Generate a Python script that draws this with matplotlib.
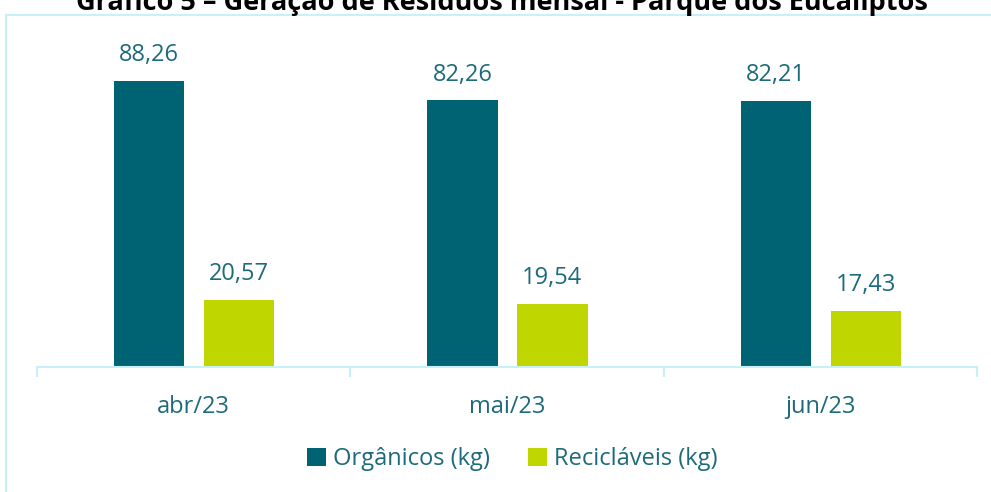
import matplotlib
matplotlib.use('Agg')
import matplotlib.pyplot as plt
from matplotlib.patches import Rectangle
import numpy as np

plt.rcParams['font.family'] = ['Open Sans', 'DejaVu Sans']

meses = ['abr/23', 'mai/23', 'jun/23']
organicos = [88.26, 82.26, 82.21]
reciclaveis = [20.57, 19.54, 17.43]
series = ['Orgânicos (kg)', 'Recicláveis (kg)']

c_org = '#006373'
c_rec = '#BFD600'
c_txt = '#1D6B7A'
c_line = '#C8F0F8'

fig = plt.figure(figsize=(9.91, 4.92), dpi=100)
ax = fig.add_axes([37/991, 125/492, 940/991, 324/492])

x = np.arange(len(meses))
w = 0.224
b1 = ax.bar(x - 0.142, organicos, w, color=c_org, label=series[0])
b2 = ax.bar(x + 0.145, reciclaveis, w, color=c_rec, label=series[1])

for bars, vals in [(b1, organicos), (b2, reciclaveis)]:
    for r, v in zip(bars, vals):
        ax.annotate('{:.2f}'.format(v).replace('.', ','),
                    (r.get_x() + r.get_width()/2, v),
                    xytext=(0, 10), textcoords='offset points',
                    ha='center', va='bottom', fontsize=17, color=c_txt)

ax.set_xlim(-0.5, 2.5)
ax.set_ylim(0, 100)
for s in ['top', 'right', 'left']:
    ax.spines[s].set_visible(False)
ax.spines['bottom'].set_color(c_line)
ax.spines['bottom'].set_linewidth(1.5)
ax.set_yticks([])
ax.set_xticks(x)
ax.set_xticklabels(meses, fontsize=17, color=c_txt)
ax.tick_params(axis='x', which='major', length=0, pad=20)
ax.set_xticks([-0.5, 0.5, 1.5, 2.5], minor=True)
ax.tick_params(axis='x', which='minor', length=7, width=1.5, color=c_line)

fig.legend(loc='center', bbox_to_anchor=(0.517, 1 - 459/492), ncol=2,
           frameon=False, fontsize=17, handlelength=0.8, handleheight=0.8,
           handletextpad=0.3, columnspacing=1.6, labelcolor=c_txt)

# moldura cortada
fig.patches.append(Rectangle((6/991, -0.1), 1.2, 1 - 15/492 + 0.1,
                             transform=fig.transFigure, fill=False,
                             edgecolor=c_line, linewidth=1.5))

fig.text(0.506, 1 - 10/492, 'Gráfico 5 – Geração de Resíduos mensal - Parque dos Eucaliptos',
         ha='center', va='baseline', fontsize=19.5, fontweight='bold', color='black')

fig.savefig('out.png', dpi=100)
